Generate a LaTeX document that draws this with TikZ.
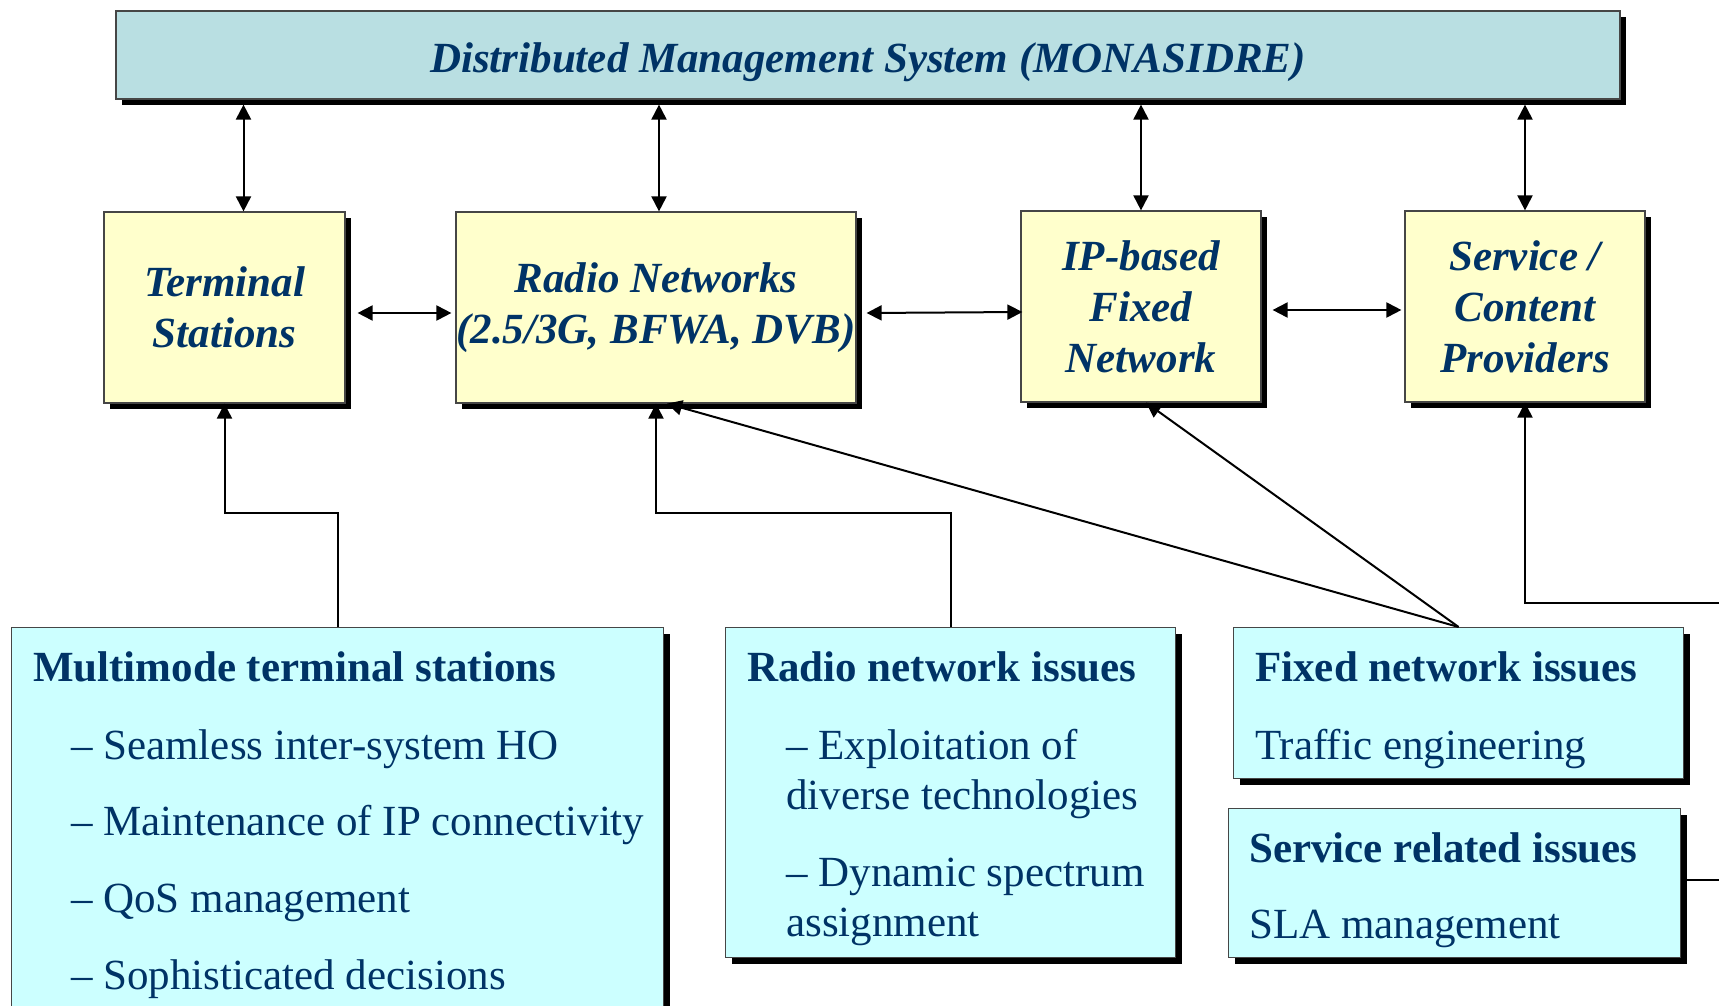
\documentclass[tikz,border=0pt]{standalone}
\usepackage{fontspec}
\setmainfont{Liberation Serif}
\usetikzlibrary{arrows.meta,shadows}

\definecolor{textblue}{RGB}{0,51,102}
\definecolor{mgmtfill}{RGB}{185,223,226}
\definecolor{netfill}{RGB}{255,255,204}
\definecolor{issuefill}{RGB}{204,255,255}
\definecolor{boxline}{RGB}{70,70,70}

\tikzset{
  shadowbox/.style={draw=boxline, line width=1.2pt, inner sep=0pt,
    drop shadow={shadow xshift=6pt, shadow yshift=-6pt, fill=black, opacity=1}},
  mgmtbox/.style={shadowbox, fill=mgmtfill, minimum width=1504pt, minimum height=88pt,
    text height=36pt, text depth=0pt,
    text=textblue, font=\fontsize{43}{51}\selectfont\bfseries\itshape},
  netbox/.style={shadowbox, fill=netfill, minimum width=240pt, minimum height=191pt,
    align=center, text=textblue, font=\fontsize{43}{51}\selectfont\bfseries\itshape},
  issuebox/.style={shadowbox, fill=issuefill, anchor=north west},
  head/.style={anchor=base west, inner sep=0pt, text=textblue,
    font=\fontsize{43}{51}\selectfont\bfseries},
  item/.style={anchor=base west, inner sep=0pt, text=textblue,
    font=\fontsize{43}{51}\selectfont},
  link/.style={line width=2pt, -{Triangle[length=15pt,width=15pt]}},
  bilink/.style={line width=2pt, {Triangle[length=15pt,width=15pt]}-{Triangle[length=15pt,width=15pt]}}
}

\begin{document}
\begin{tikzpicture}[x=1pt, y=-1pt]
  \useasboundingbox (0,0) rectangle (1719,1006);

  % management system and networks
  \node[mgmtbox] (dms) at (868,55) {Distributed Management System (MONASIDRE)};
  \node[netbox, minimum width=241pt] (ts) at (224.5,307.5) {Terminal\\Stations};
  \node[netbox, minimum width=400pt] (rn) at (656,307.5) {Radio Networks\\(2.5/3G, BFWA, DVB)};
  \node[netbox] (ip) at (1141,306.5) {IP-based\\Fixed\\Network};
  \node[netbox] (sp) at (1525,306.5) {Service /\\Content\\Providers};

  % issue boxes
  \node[issuebox, minimum width=652pt, minimum height=430pt] (mts) at (11,627) {};
  \node[issuebox, minimum width=450pt, minimum height=330pt] (rni) at (725,627) {};
  \node[issuebox, minimum width=450pt, minimum height=151pt] (fni) at (1233,627) {};
  \node[issuebox, minimum width=452pt, minimum height=149pt] (sri) at (1228,808) {};

  \node[head] (mtsh) at (33,681) {Multimode terminal stations};
  \node[item] (mtsa) at (71,759) {– Seamless inter-system HO};
  \node[item] (mtsb) at (71,835) {– Maintenance of IP connectivity};
  \node[item] (mtsc) at (71,912) {– QoS management};
  \node[item] (mtsd) at (71,989) {– Sophisticated decisions};

  \node[head] (rnih) at (747,681) {Radio network issues};
  \node[item] (rnia) at (786,759) {– Exploitation of};
  \node[item] (rnib) at (786,809) {diverse technologies};
  \node[item] (rnic) at (786,886) {– Dynamic spectrum};
  \node[item] (rnid) at (786,936) {assignment};

  \node[head] (fnih) at (1255,681) {Fixed network issues};
  \node[item] (fnia) at (1255,759) {Traffic engineering};

  \node[head] (srih) at (1249,862) {Service related issues};
  \node[item] (sria) at (1249,938) {SLA management};

  % connectors
  \draw[bilink, shorten <=5pt] ([xshift=19pt]ts.north |- dms.south) -- ([xshift=19pt]ts.north);
  \draw[bilink, shorten <=5pt] ([xshift=3pt]rn.north |- dms.south) -- ([xshift=3pt]rn.north);
  \draw[bilink, shorten <=5pt] (ip.north |- dms.south) -- (ip.north);
  \draw[bilink, shorten <=5pt] (sp.north |- dms.south) -- (sp.north);

  \draw[bilink] ([xshift=12pt,yshift=-5.5pt]ts.east) -- ([xshift=-4pt,yshift=-5.5pt]rn.west);
  \draw[bilink] ([xshift=10pt,yshift=-5.5pt]rn.east) -- ([xshift=2pt,yshift=-5.5pt]ip.west);
  \draw[bilink] ([xshift=11pt,yshift=-3.5pt]ip.east) -- ([xshift=-3pt,yshift=-3.5pt]sp.west);

  \coordinate (midrow) at (0,513);
  \coordinate (spexit) at (1725,603);
  \coordinate (sriexit) at (1725,880);

  \draw[link] (mts.north) -- (mts.north |- midrow) -| (ts.south);
  \draw[link] (rni.north) -- (rni.north |- midrow) -| (rn.south);
  \draw[link] (fni.north) -- ([xshift=11pt]rn.south);
  \draw[link] (fni.north) -- ([xshift=5pt]ip.south);
  \draw[link] (spexit) -| (sp.south);
  \draw[line width=2pt] ([xshift=6pt]sri.east |- sriexit) -- (sriexit);
\end{tikzpicture}
\end{document}
